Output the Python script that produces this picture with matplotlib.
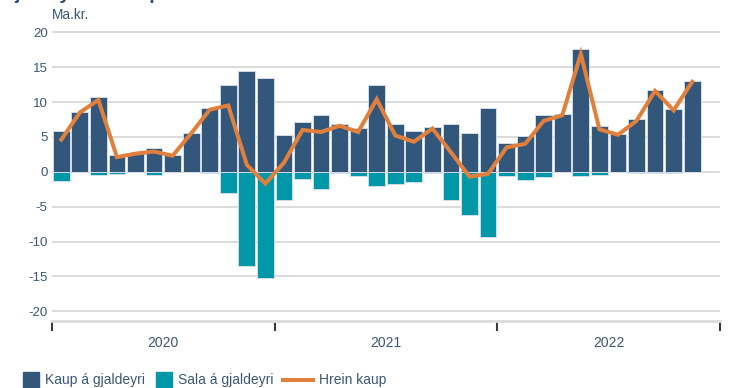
import matplotlib
matplotlib.use("Agg")
import matplotlib.pyplot as plt
import numpy as np
from matplotlib.lines import Line2D
from matplotlib.patches import Rectangle

plt.rcParams["font.family"] = ["Liberation Sans", "DejaVu Sans"]

years = ["2020", "2021", "2022"]

# monthly purchases of foreign currency (ma.kr.), Jan 2020 - Nov 2022
kaup = [5.8, 8.6, 10.7, 2.4, 2.7, 3.4, 2.4, 5.6, 9.1, 12.5, 14.5, 13.5,
        5.3, 7.1, 8.1, 6.8, 6.3, 12.4, 6.9, 5.8, 6.4, 6.9, 5.5, 9.1,
        4.1, 5.2, 8.1, 8.3, 17.6, 6.5, 5.4, 7.5, 11.7, 9.0, 13.0]
# monthly sales of foreign currency
sala = [-1.3, -0.1, -0.4, -0.3, -0.1, -0.5, -0.1, -0.1, -0.2, -3.0, -13.5, -15.2,
        -4.0, -1.1, -2.4, -0.2, -0.6, -2.0, -1.7, -1.5, -0.2, -4.1, -6.2, -9.4,
        -0.6, -1.2, -0.8, -0.1, -0.6, -0.4, -0.1, -0.2, -0.2, -0.2, -0.1]
# net purchases
hrein = [4.6, 8.5, 10.3, 2.1, 2.6, 2.9, 2.3, 5.5, 8.9, 9.5, 1.0, -1.7,
         1.3, 6.0, 5.7, 6.6, 5.7, 10.4, 5.2, 4.3, 6.2, 2.8, -0.7, -0.3,
         3.5, 4.0, 7.3, 8.1, 16.9, 6.1, 5.3, 7.3, 11.6, 8.8, 12.9]

navy = "#33577a"
teal = "#0098a8"
orange = "#e0803c"
txt = "#3a5778"

fig = plt.figure(figsize=(7.34, 3.88), dpi=100)
ax = fig.add_axes([52 / 734, 67 / 388, 668 / 734, 290.8 / 388])

x = np.arange(len(kaup)) + 0.5
ax.bar(x, kaup, width=0.9, color=navy, edgecolor="#d3dde8", linewidth=0.7, zorder=2)
ax.bar(x, sala, width=0.9, color=teal, edgecolor="#d3dde8", linewidth=0.7, zorder=2)
ax.plot(x, hrein, color=orange, lw=2.9, zorder=3, solid_joinstyle="miter")

ax.set_xlim(0, 36)
ax.set_ylim(-21.4, 20.3)
ax.set_yticks(range(-20, 21, 5))
ax.set_yticklabels([str(v) for v in range(-20, 21, 5)])
ax.tick_params(axis="y", length=0, pad=3, labelsize=9.6, labelcolor=txt)
ax.grid(axis="y", color="#d2d2d2", lw=1.1, zorder=0)
ax.set_axisbelow(True)

ax.set_xticks([0, 12, 24, 36])
ax.set_xticklabels([])
ax.set_xticks([6, 18, 30], minor=True)
ax.set_xticklabels(years, minor=True)
ax.tick_params(axis="x", which="major", length=7, width=1.5, color="#3a3a3a", direction="out")
ax.tick_params(axis="x", which="minor", length=0, pad=11, labelsize=10, labelcolor=txt)

for s in ["top", "right", "left"]:
    ax.spines[s].set_visible(False)
ax.spines["bottom"].set_color("#dcdcdc")
ax.spines["bottom"].set_linewidth(2)

fig.text(52 / 734, 1 - 15 / 388, "Ma.kr.", fontsize=9.8, color=txt, va="center", ha="left")

# title sits just above the top edge, only the descenders show
fig.text(0, 1 + 1 / 388, "Gjaldeyrisviðskipti Seðlabankans á millibankamarkaði",
         fontsize=14, fontweight="bold", color="#2f4f70", va="baseline", ha="left")

# legend
ly = 380
items = [(23, "Kaup á gjaldeyri", navy, "box"),
         (156, "Sala á gjaldeyri", teal, "box"),
         (283, "Hrein kaup", orange, "line")]
for x0, label, col, kind in items:
    if kind == "box":
        fig.patches.append(Rectangle((x0 / 734, 0), 16 / 734, 16 / 388,
                                     transform=fig.transFigure, color=col))
        tx = x0 + 22
    else:
        fig.lines.append(Line2D([x0 / 734, (x0 + 30) / 734], [1 - ly / 388] * 2,
                                transform=fig.transFigure, color=col, lw=2.9))
        tx = x0 + 36
    fig.text(tx / 734, 1 - ly / 388, label, fontsize=10, color=txt, va="center", ha="left")

fig.savefig("out.png", dpi=100)
